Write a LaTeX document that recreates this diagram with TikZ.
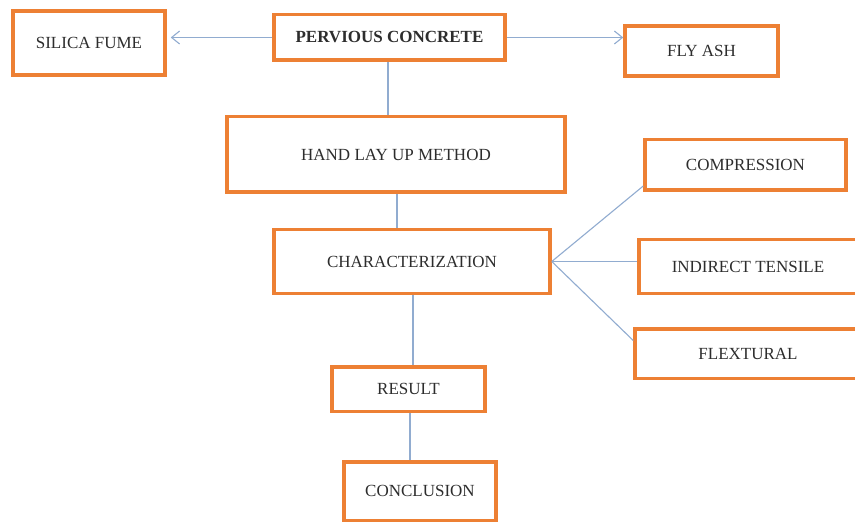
\documentclass[tikz,border=0pt]{standalone}
\usepackage{fontspec}
\setmainfont{Liberation Serif}
\usetikzlibrary{arrows.meta}
\definecolor{boxorange}{RGB}{237,128,52}
\definecolor{linkblue}{RGB}{145,172,208}
\definecolor{txtgray}{RGB}{45,45,45}
\tikzset{
  box/.style={draw=boxorange, line width=3.5pt, fill=white, rectangle, inner sep=0pt,
    font=\fontsize{17}{20}\selectfont, text=txtgray},
  link/.style={draw=linkblue, line width=1.1pt},
  arrowlink/.style={link, -{Straight Barb[length=8pt,width=13pt,line width=1.1pt]}}
}
\begin{document}
\begin{tikzpicture}[x=1pt,y=-1pt]
\useasboundingbox[fill=white] (0,0) rectangle (855,524);
\node[box, minimum width=152pt, minimum height=64pt] (silica) at (89,43) {SILICA FUME};
\node[box, minimum width=231pt, minimum height=45.5pt, font=\fontsize{17}{20}\selectfont\bfseries] (pervious) at (389.5,37.5) {PERVIOUS CONCRETE};
\node[box, minimum width=153pt, minimum height=50pt] (flyash) at (701.5,51) {FLY ASH};
\node[box, minimum width=338pt, minimum height=75.5pt] (hand) at (396,154.5) {HAND LAY UP METHOD};
\node[box, minimum width=276pt, minimum height=63.5pt] (char) at (412,261.5) {CHARACTERIZATION};
\node[box, minimum width=201pt, minimum height=50.5pt] (comp) at (745.5,165) {COMPRESSION};
\node[box, minimum width=218pt, minimum height=53.5pt] (indirect) at (748,266.5) {INDIRECT TENSILE};
\node[box, minimum width=226pt, minimum height=49.5pt] (flex) at (748,353.5) {FLEXTURAL};
\node[box, minimum width=153pt, minimum height=44.5pt] (result) at (408.5,389) {RESULT};
\node[box, minimum width=152pt, minimum height=58.5pt] (conclusion) at (420,491) {CONCLUSION};

\draw[arrowlink, shorten >=4pt] (pervious.west) -- (pervious.west -| silica.east);
\draw[arrowlink] (pervious.east) -- (pervious.east -| flyash.west);
\draw[link] ([xshift=-1.5pt]pervious.south) -- ([xshift=-1.5pt]pervious.south |- hand.north);
\draw[link] ([xshift=1pt]hand.south) -- ([xshift=1pt]hand.south |- char.north);
\draw[link] ([xshift=1pt]char.south) -- ([xshift=1pt]char.south |- result.north);
\draw[link] ([xshift=1.5pt]result.south) -- ([xshift=1.5pt]result.south |- conclusion.north);
\draw[link] (char.east) -- ([yshift=6pt]comp.south west);
\draw[link] (char.east) -- (char.east -| indirect.west);
\draw[link] (char.east) -- ([yshift=13pt]flex.west);
\end{tikzpicture}
\end{document}
